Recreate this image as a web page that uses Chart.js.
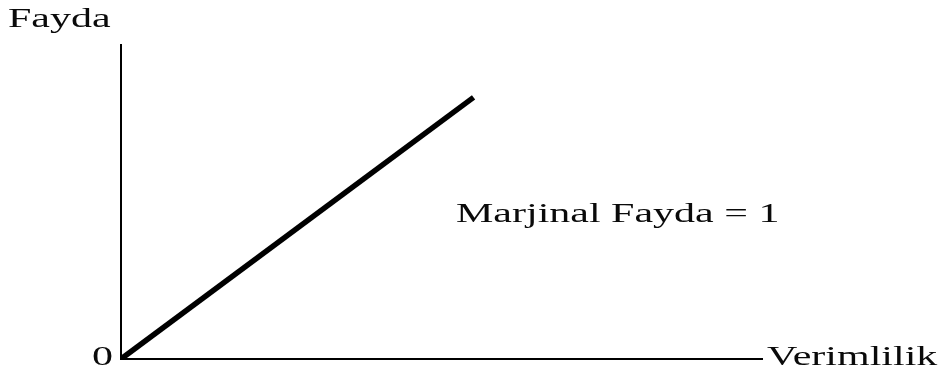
<!DOCTYPE html>
<html>
<head>
<meta charset="utf-8">
<script src="https://cdn.jsdelivr.net/npm/chart.js@4.4.1/dist/chart.umd.min.js"></script>
<style>
html,body{margin:0;padding:0;background:#fff;}
#wrap{width:947px;height:374px;}
</style>
</head>
<body>
<div id="wrap"><canvas id="c" width="947" height="374"></canvas></div>
<script>
// Data
const xValues = [0, 5.5];
const yValues = [0, 5.5];
const xRange = [0, 10];
const yRange = [0, 6.6];
const yAxisTitle = "Fayda";
const xAxisTitle = "Verimlilik";
const originLabel = "0";
const annotationText = "Marjinal Fayda = 1";

const points = xValues.map((x, i) => ({x: x, y: yValues[i]}));

const FONT = '28px "Liberation Serif", "Times New Roman", serif';
const SX = 1.5;

function drawStretched(ctx, text, x, y, align) {
  ctx.save();
  ctx.font = FONT;
  ctx.fillStyle = '#0a0a0a';
  ctx.textBaseline = 'alphabetic';
  ctx.textAlign = 'left';
  const w = ctx.measureText(text).width * SX;
  let left = x;
  if (align === 'right') left = x - w;
  ctx.translate(left, y);
  ctx.scale(SX, 1);
  ctx.fillText(text, 0, 0);
  ctx.restore();
}

const labelPlugin = {
  id: 'labels',
  afterDraw(chart) {
    const ctx = chart.ctx;
    const xs = chart.scales.x, ys = chart.scales.y;
    const ox = xs.getPixelForValue(xRange[0]);
    const oy = ys.getPixelForValue(yRange[0]);
    drawStretched(ctx, yAxisTitle, 8, 27, 'left');
    drawStretched(ctx, originLabel, ox - 8, oy + 6, 'right');
    drawStretched(ctx, xAxisTitle, xs.getPixelForValue(xRange[1]) + 5, oy + 6, 'left');
    drawStretched(ctx, annotationText, 456, 222, 'left');
  }
};

new Chart(document.getElementById('c'), {
  type: 'scatter',
  data: {
    datasets: [{
      data: points,
      showLine: true,
      borderColor: '#000',
      borderWidth: 5.5,
      pointRadius: 0,
      borderCapStyle: 'butt',
      fill: false
    }]
  },
  options: {
    responsive: false,
    animation: false,
    layout: {padding: {left: 121, right: 185, top: 45, bottom: 15}},
    plugins: {legend: {display: false}, tooltip: {enabled: false}},
    scales: {
      x: {
        type: 'linear', min: xRange[0], max: xRange[1],
        grid: {display: false, drawTicks: false},
        ticks: {display: false},
        border: {display: true, color: '#000', width: 2}
      },
      y: {
        type: 'linear', min: yRange[0], max: yRange[1],
        grid: {display: false, drawTicks: false},
        ticks: {display: false},
        border: {display: true, color: '#000', width: 2}
      }
    }
  },
  plugins: [labelPlugin]
});
</script>
</body>
</html>
